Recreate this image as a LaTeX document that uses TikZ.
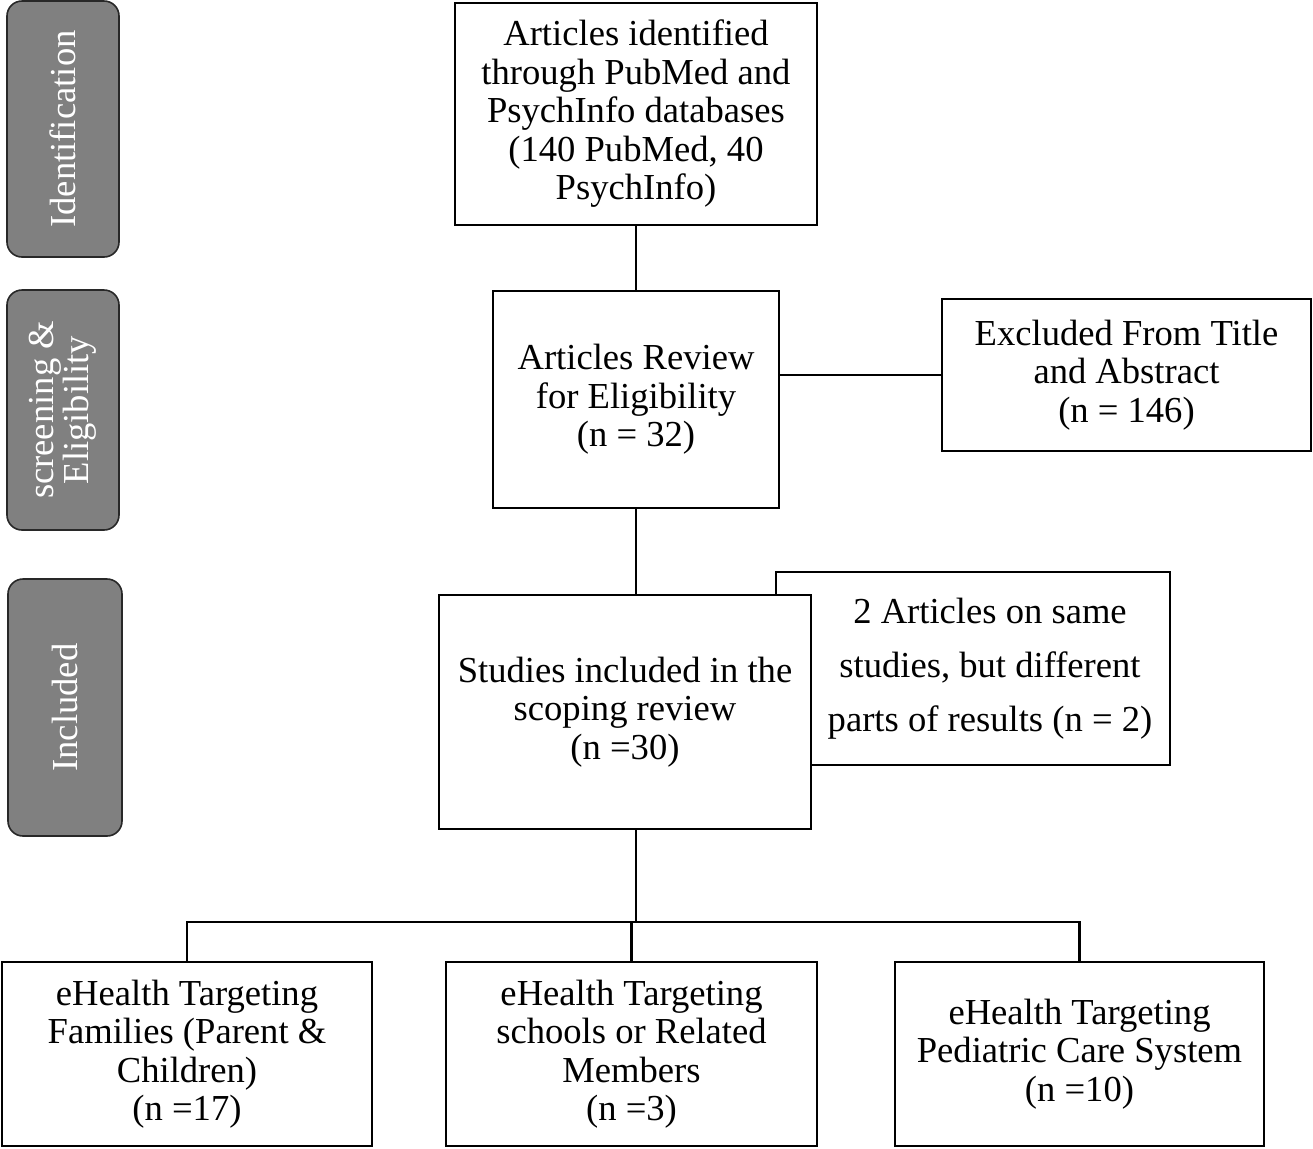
\documentclass[tikz,border=0pt]{standalone}
\usepackage{fontspec}
\setmainfont{Liberation Serif}

\definecolor{stagegray}{RGB}{128,128,128}
\definecolor{stageline}{RGB}{40,40,40}
\newcommand\flowfont{\fontsize{18.3}{19.25}\selectfont}

\tikzset{
	box/.style={draw, fill=white, line width=1pt, align=center, inner sep=0pt, font=\flowfont},
	stage/.style={draw=stageline, fill=stagegray, line width=0.8pt, rounded corners=7.5pt, rotate=90, text=white, align=center, inner sep=0pt, font=\fontsize{18.3}{17.5}\selectfont},
	link/.style={line width=1.2pt}
}

\begin{document}
\begin{tikzpicture}[x=0.5pt, y=-0.5pt]
		\useasboundingbox (0,0) rectangle (1313,1148);

		\node[stage, minimum width=128pt, minimum height=56pt] (ident) at (63, 129) {Identification};
		\node[stage, minimum width=120pt, minimum height=56pt] (screen) at (63, 410) {screening \&\\ Eligibility};
		\node[stage, minimum width=128.5pt, minimum height=57pt] (incl) at (65, 707.5) {Included};

		\node[box, minimum width=181pt, minimum height=111pt] (found) at (636, 114) {Articles identified\\ through PubMed and\\ PsychInfo databases\\ (140 PubMed, 40\\ PsychInfo)};
		\node[box, minimum width=143pt, minimum height=108.5pt] (review) at (636, 399.5) {Articles Review\\ for Eligibility\\ (n = 32)};
		\node[box, minimum width=184.5pt, minimum height=76pt] (excl) at (1126.5, 375) {Excluded From Title\\ and Abstract\\ (n = 146)};
		\node[box, minimum width=197pt, minimum height=96.5pt, label={[font=\fontsize{18.3}{27}\selectfont, align=center, xshift=8.5pt]center:2 Articles on same\\ studies, but different\\ parts of results (n = 2)}] (dup) at (973, 668.5) {};
		\node[box, minimum width=186pt, minimum height=117pt] (study) at (625, 712) {Studies included in the\\ scoping review\\ (n =30)};

		\node[box, minimum width=185pt, minimum height=92pt] (fam) at (187, 1054) {eHealth Targeting\\ Families (Parent \&\\ Children)\\ (n =17)};
		\node[box, minimum width=185.5pt, minimum height=92pt] (school) at (631.5, 1054) {eHealth Targeting\\ schools or Related\\ Members\\ (n =3)};
		\node[box, minimum width=184.5pt, minimum height=92pt] (ped) at (1079.5, 1054) {eHealth Targeting\\ Pediatric Care System\\ (n =10)};

		\coordinate (bar) at (0, 922);

		\draw[link] (found) -- (review);
		\draw[link] (review.east |- excl.west) -- (excl.west);
		\draw[link] (review) -- (review |- study.north);
		\draw[link] (review |- study.south) -- (review |- bar);
		\draw[link] (fam.north) -- (fam.north |- bar) -- (ped.north |- bar) -- (ped.north);
		\draw[link] (school.north) -- (school.north |- bar);
	\end{tikzpicture}
\end{document}
